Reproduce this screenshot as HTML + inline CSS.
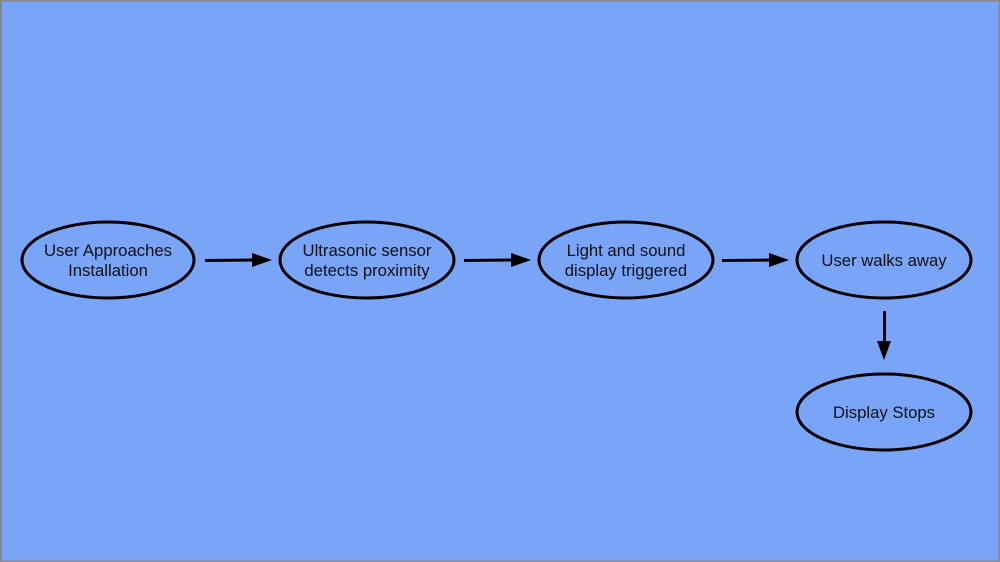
<!DOCTYPE html>
<html><head><style>html,body{margin:0;padding:0;background:#79a4f7;}svg{display:block}</style></head>
<body>
<svg width="1000" height="562" xmlns="http://www.w3.org/2000/svg" font-family="Liberation Sans, sans-serif" font-size="16.7" fill="#111">
<rect x="1" y="0.5" width="998.5" height="561" fill="#79a4f7" stroke="#888" stroke-width="2"/>
<g fill="none" stroke="#000" stroke-width="3">
<ellipse cx="108" cy="260" rx="86" ry="38"/>
<ellipse cx="367" cy="260" rx="87" ry="38"/>
<ellipse cx="626" cy="260" rx="87" ry="38"/>
<ellipse cx="884" cy="260" rx="87" ry="38"/>
<ellipse cx="884" cy="412" rx="87" ry="38"/>
<line x1="205" y1="260.5" x2="254" y2="260"/>
<line x1="464" y1="260.5" x2="513" y2="260"/>
<line x1="722" y1="260.5" x2="771" y2="260"/>
<line x1="884.5" y1="311" x2="884.5" y2="343"/>
</g>
<g fill="#000">
<polygon points="252,253 272,260 252,267"/>
<polygon points="511,253 531,260 511,267"/>
<polygon points="769,253 789,260 769,267"/>
<polygon points="877,341 891,341 884,360"/>
</g>
<g text-anchor="middle">
<text x="108" y="256">User Approaches</text><text x="108" y="276">Installation</text>
<text x="367" y="256">Ultrasonic sensor</text><text x="367" y="276">detects proximity</text>
<text x="626" y="256">Light and sound</text><text x="626" y="276">display triggered</text>
<text x="884" y="266">User walks away</text>
<text x="884" y="418">Display Stops</text>
</g>
</svg>
</body></html>
